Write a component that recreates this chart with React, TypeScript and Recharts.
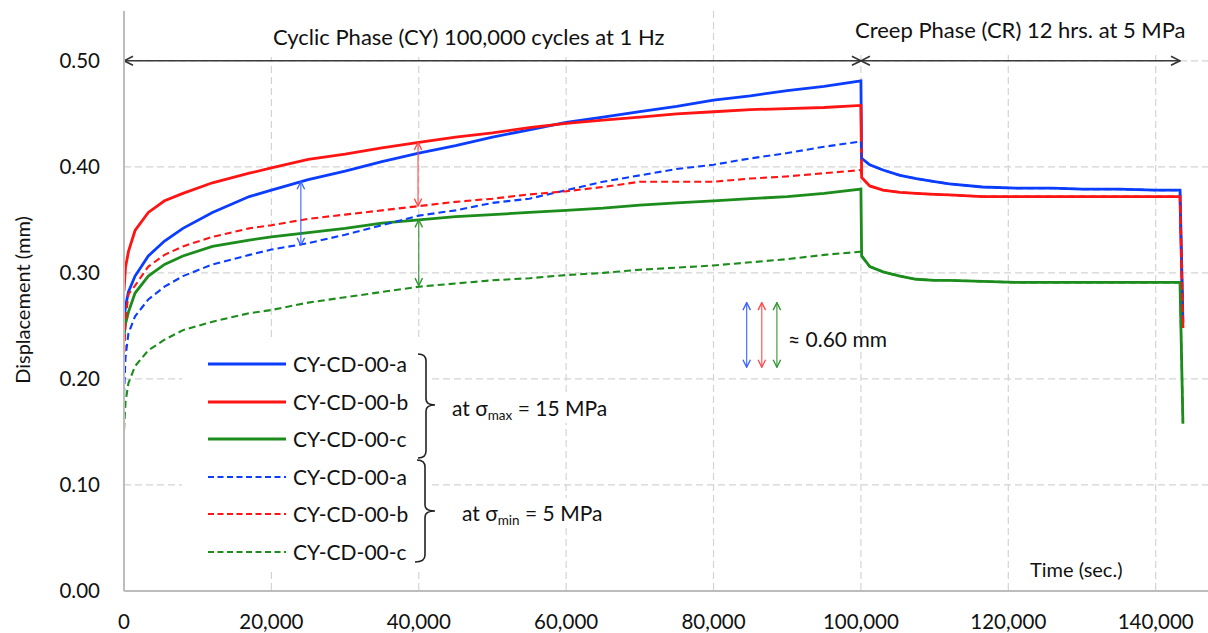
import React from 'react';
import { LineChart, Line, XAxis, YAxis, CartesianGrid, ReferenceLine } from 'recharts';

// ---- data (time in seconds, displacement in mm) ----
const cyclicTime = [0, 200, 600, 1500, 3300, 5500, 8000, 12000, 17000, 20000, 25000, 30000, 35000, 40000, 45000, 50000, 55000, 60000, 65000, 70000, 75000, 80000, 85000, 90000, 95000, 100000];
const creepTime = [100100, 101200, 103000, 105300, 107500, 110000, 112000, 116500, 121000, 126000, 130000, 135000, 140000, 143300, 143700];

// sigma_max = 15 MPa (solid), cyclic phase
const aMaxCyclic = [0.256, 0.268, 0.282, 0.297, 0.316, 0.330, 0.342, 0.357, 0.372, 0.378, 0.388, 0.396, 0.405, 0.413, 0.420, 0.428, 0.435, 0.442, 0.447, 0.452, 0.457, 0.463, 0.467, 0.472, 0.476, 0.481];
const bMaxCyclic = [0.283, 0.305, 0.320, 0.340, 0.357, 0.368, 0.375, 0.385, 0.394, 0.399, 0.407, 0.412, 0.418, 0.423, 0.428, 0.432, 0.437, 0.441, 0.444, 0.447, 0.450, 0.452, 0.454, 0.455, 0.456, 0.458];
const cMaxCyclic = [0.240, 0.252, 0.263, 0.281, 0.297, 0.308, 0.316, 0.325, 0.331, 0.334, 0.338, 0.342, 0.347, 0.350, 0.353, 0.355, 0.357, 0.359, 0.361, 0.364, 0.366, 0.368, 0.370, 0.372, 0.375, 0.379];

// sigma_min = 5 MPa (dashed), cyclic phase
const aMinCyclic = [0.185, 0.220, 0.243, 0.259, 0.275, 0.287, 0.297, 0.308, 0.317, 0.322, 0.328, 0.336, 0.345, 0.354, 0.359, 0.366, 0.370, 0.378, 0.386, 0.392, 0.398, 0.402, 0.408, 0.413, 0.419, 0.424];
const bMinCyclic = [0.215, 0.255, 0.280, 0.288, 0.306, 0.317, 0.325, 0.334, 0.342, 0.345, 0.351, 0.355, 0.359, 0.363, 0.367, 0.370, 0.374, 0.377, 0.381, 0.386, 0.386, 0.386, 0.389, 0.391, 0.394, 0.397];
const cMinCyclic = [0.152, 0.178, 0.196, 0.212, 0.227, 0.237, 0.246, 0.254, 0.262, 0.265, 0.272, 0.277, 0.282, 0.287, 0.290, 0.293, 0.295, 0.298, 0.300, 0.303, 0.305, 0.307, 0.310, 0.313, 0.317, 0.320];

// creep phase (both records coincide)
const aCreep = [0.408, 0.402, 0.397, 0.392, 0.389, 0.386, 0.384, 0.381, 0.380, 0.380, 0.379, 0.379, 0.378, 0.378, 0.253];
const bCreep = [0.390, 0.382, 0.378, 0.376, 0.375, 0.374, 0.3735, 0.372, 0.372, 0.372, 0.372, 0.372, 0.372, 0.372, 0.248];
const cCreep = [0.316, 0.306, 0.301, 0.297, 0.294, 0.293, 0.293, 0.292, 0.291, 0.291, 0.291, 0.291, 0.291, 0.291, 0.158];

const xTicks = [0, 20000, 40000, 60000, 80000, 100000, 120000, 140000];
const yTicks = [0, 0.1, 0.2, 0.3, 0.4, 0.5];

const seriesNames = ['CY-CD-00-a', 'CY-CD-00-b', 'CY-CD-00-c'];
const BLUE = '#0b3dff';
const RED = '#ff1414';
const GREEN = '#1c8c1c';
const colors = [BLUE, RED, GREEN];

const time = [...cyclicTime, ...creepTime];
const aMax = [...aMaxCyclic, ...aCreep];
const bMax = [...bMaxCyclic, ...bCreep];
const cMax = [...cMaxCyclic, ...cCreep];
const aMin = [...aMinCyclic, ...aCreep];
const bMin = [...bMinCyclic, ...bCreep];
const cMin = [...cMinCyclic, ...cCreep];

const rows = time.map((t, i) => ({ t, aMax: aMax[i], bMax: bMax[i], cMax: cMax[i], aMin: aMin[i], bMin: bMin[i], cMin: cMin[i] }));

// annotation arrows (data coordinates)
const phaseArrows = [
  { x1: 0, x2: 100000, y: 0.5 },
  { x1: 100000, x2: 143300, y: 0.5 },
];
const diffArrows = [
  { x: 24000, y1: 0.386, y2: 0.326, c: 'B' },
  { x: 39900, y1: 0.423, y2: 0.363, c: 'R' },
  { x: 40000, y1: 0.350, y2: 0.288, c: 'G' },
  { x: 84500, y1: 0.272, y2: 0.211, c: 'B' },
  { x: 86550, y1: 0.272, y2: 0.211, c: 'R' },
  { x: 88600, y1: 0.272, y2: 0.211, c: 'G' },
];
const arrowColor: Record<string, string> = { B: '#3a62ff', R: '#ff4a4a', G: '#2e962e', K: '#333333' };

const FONT = 'Lato, "Open Sans", sans-serif';

const arrowShape = (marker: string, stroke: string, width: number) => (p: any) => (
  <line x1={p.x1} y1={p.y1} x2={p.x2} y2={p.y2} stroke={stroke} strokeWidth={width}
    markerStart={`url(#${marker})`} markerEnd={`url(#${marker})`} />
);

const Label = ({ left, cy, size = 20.5, children, bg }: any) => (
  <div style={{ position: 'absolute', left, top: cy - 15, height: 30, lineHeight: '30px', fontSize: size, whiteSpace: 'nowrap', color: '#111', background: bg }}>
    {children}
  </div>
);

export default function App() {
  const legendRows = [364, 402, 439, 477, 514, 552];
  return (
    <div style={{ position: 'absolute', left: 0, top: 0, width: 1208, height: 633, fontFamily: FONT, background: '#fff', overflow: 'hidden' }}>
      <svg width={0} height={0} style={{ position: 'absolute' }}>
        <defs>
          {Object.keys(arrowColor).map((k) => (
            <marker key={k} id={`arr${k}`} viewBox="0 0 12 12" refX={11} refY={6}
              markerWidth={k === 'K' ? 12 : 10} markerHeight={k === 'K' ? 12 : 10}
              markerUnits="userSpaceOnUse" orient="auto-start-reverse">
              <path d="M2,1.5 L11,6 L2,10.5" fill="none" stroke={arrowColor[k]} strokeWidth={1.6} />
            </marker>
          ))}
        </defs>
      </svg>

      <LineChart width={1208} height={633} data={rows} margin={{ top: 11, right: 0, bottom: 0, left: 0 }}>
        <CartesianGrid stroke="#d4d4d4" strokeDasharray="7 4" strokeWidth={1.2} horizontalValues={yTicks} verticalValues={xTicks} />
        <XAxis dataKey="t" type="number" domain={[0, 147100]} ticks={xTicks} allowDataOverflow
          height={42} tickSize={0} tickMargin={23} tickLine={false}
          axisLine={{ stroke: '#bcbcbc', strokeWidth: 2 }}
          tick={{ fill: '#111', fontSize: 20.5, fontFamily: FONT }}
          tickFormatter={(v: number) => v.toLocaleString('en-US')} />
        <YAxis type="number" domain={[0, 0.547]} ticks={yTicks} allowDataOverflow
          width={124} tickSize={0} tickMargin={24} tickLine={false}
          axisLine={{ stroke: '#bcbcbc', strokeWidth: 2 }}
          tick={{ fill: '#111', fontSize: 20.5, fontFamily: FONT }}
          tickFormatter={(v: number) => v.toFixed(2)} />

        <Line dataKey="aMax" stroke={BLUE} strokeWidth={2.8} dot={false} isAnimationActive={false} type="linear" />
        <Line dataKey="bMax" stroke={RED} strokeWidth={2.8} dot={false} isAnimationActive={false} type="linear" />
        <Line dataKey="cMax" stroke={GREEN} strokeWidth={2.8} dot={false} isAnimationActive={false} type="linear" />
        <Line dataKey="aMin" stroke={BLUE} strokeWidth={2.1} strokeDasharray="7 4" dot={false} isAnimationActive={false} type="linear" />
        <Line dataKey="bMin" stroke={RED} strokeWidth={2.1} strokeDasharray="7 4" dot={false} isAnimationActive={false} type="linear" />
        <Line dataKey="cMin" stroke={GREEN} strokeWidth={2.1} strokeDasharray="7 4" dot={false} isAnimationActive={false} type="linear" />

        {phaseArrows.map((a, i) => (
          <ReferenceLine key={`p${i}`} segment={[{ x: a.x1, y: a.y }, { x: a.x2, y: a.y }]} ifOverflow="visible"
            shape={arrowShape('arrK', '#3a3a3a', 1.5)} />
        ))}
        {diffArrows.map((a, i) => (
          <ReferenceLine key={`d${i}`} segment={[{ x: a.x, y: a.y1 }, { x: a.x, y: a.y2 }]} ifOverflow="visible"
            shape={arrowShape(`arr${a.c}`, arrowColor[a.c], 1.1)} />
        ))}
      </LineChart>

      {/* y axis title */}
      <div style={{ position: 'absolute', left: 22, top: 300, transform: 'translate(-50%, -50%) rotate(-90deg)', fontSize: 20, whiteSpace: 'nowrap', color: '#111' }}>
        Displacement (mm)
      </div>

      {/* phase labels */}
      <div style={{ position: 'absolute', left: 262, top: 11, width: 408, height: 46, background: '#fff' }} />
      <Label left={273} cy={37} size={22}>Cyclic Phase (CY) 100,000 cycles at 1 Hz</Label>
      <div style={{ position: 'absolute', left: 845, top: 0, width: 363, height: 52, background: '#fff' }} />
      <Label left={855} cy={30} size={22}>Creep Phase (CR) 12 hrs. at 5 MPa</Label>

      <Label left={788} cy={339} size={21}>≈ 0.60 mm</Label>
      <Label left={1030} cy={569} size={20}>Time (sec.)</Label>

      {/* legend */}
      <div style={{ position: 'absolute', left: 182, top: 340, width: 248, height: 232, background: '#fff' }} />
      <svg width={1208} height={633} style={{ position: 'absolute', left: 0, top: 0, pointerEvents: 'none' }}>
        {legendRows.map((y, i) => (
          <line key={i} x1={208} x2={286} y1={y} y2={y} stroke={colors[i % 3]}
            strokeWidth={i < 3 ? 3 : 2} strokeDasharray={i < 3 ? undefined : '6 3.5'} />
        ))}
        <path d="M418,354 Q426,354 426,361 L426,399 Q426,405 435,405 Q426,405 426,411 L426,451 Q426,458 418,458" fill="none" stroke="#222" strokeWidth={1.6} />
        <path d="M417,460 Q425,460 425,467 L425,505 Q425,511 435,511 Q425,511 425,517 L425,555 Q425,562 415,562" fill="none" stroke="#222" strokeWidth={1.6} />
      </svg>
      {legendRows.map((y, i) => (
        <Label key={i} left={293} cy={y} size={21}>{seriesNames[i % 3]}</Label>
      ))}
      <Label left={448} cy={408} bg="#fff" size={21}>
        <span style={{ padding: '0 4px' }}>at σ<sub style={{ fontSize: 13.5, verticalAlign: '-4px' }}>max</sub> = 15 MPa</span>
      </Label>
      <Label left={458} cy={513} bg="#fff" size={21}>
        <span style={{ padding: '0 4px' }}>at σ<sub style={{ fontSize: 13.5, verticalAlign: '-4px' }}>min</sub> = 5 MPa</span>
      </Label>
    </div>
  );
}
